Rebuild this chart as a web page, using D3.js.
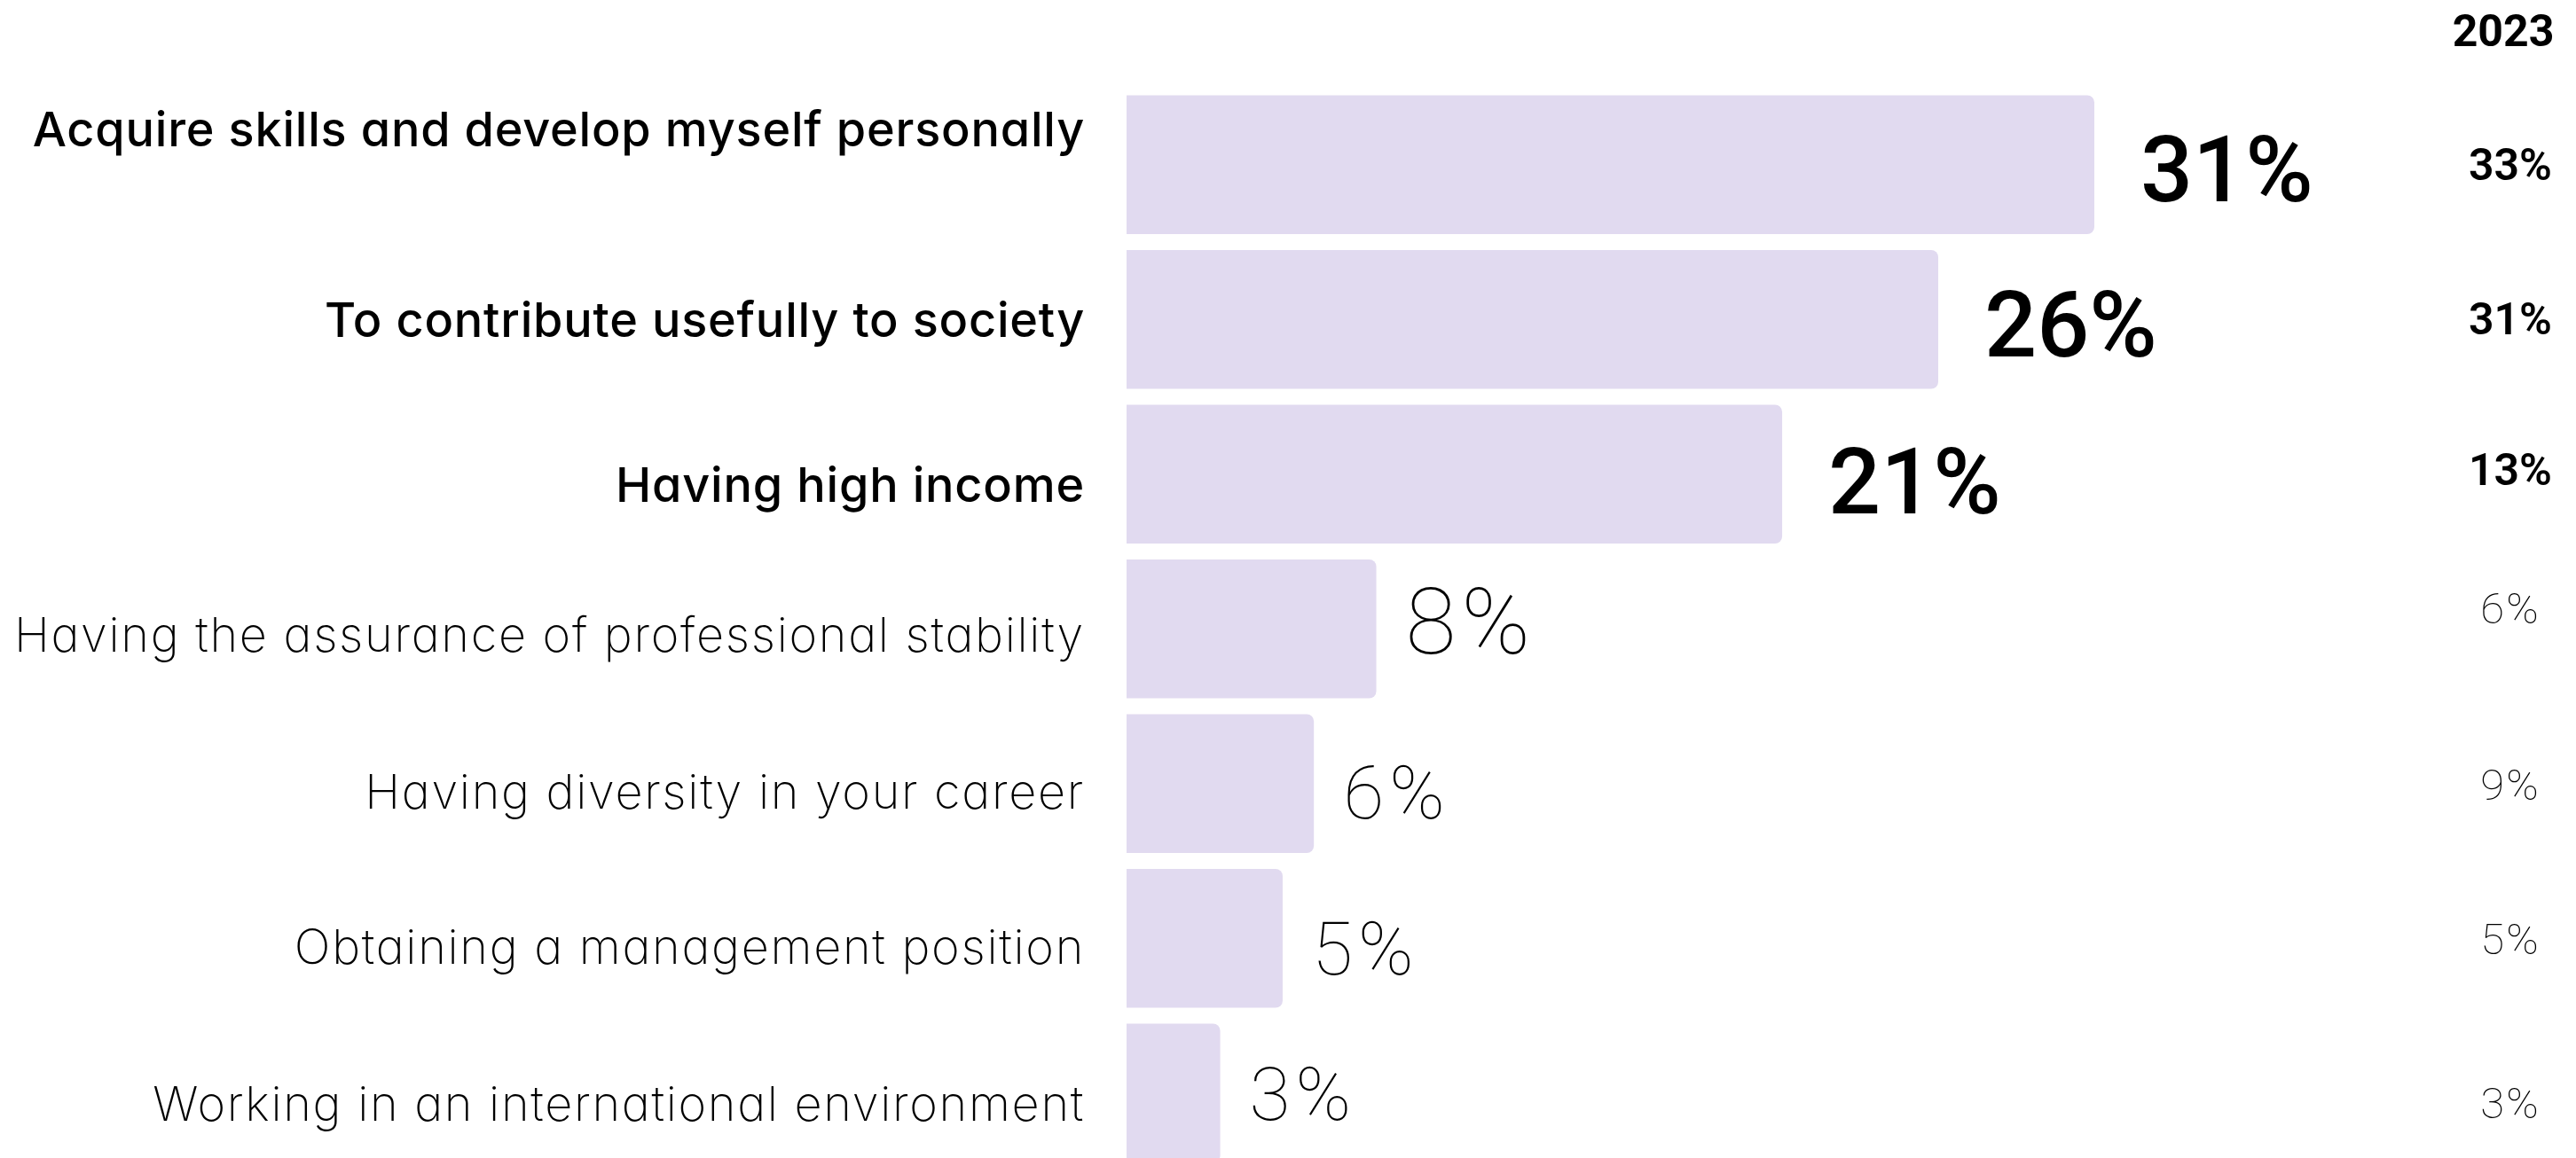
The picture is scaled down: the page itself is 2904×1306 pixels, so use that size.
<!DOCTYPE html>
<html>
<head>
<meta charset="utf-8">
<script src="https://cdn.jsdelivr.net/npm/d3@7"></script>
<style>
  html, body { margin: 0; padding: 0; background: #ffffff; overflow: hidden; }
  svg { display: block; }
</style>
</head>
<body>
<svg id="chart" width="2904" height="1306"></svg>
<script>
// Career priorities, share of respondents
const categories = [
  "Acquire skills and develop myself personally",
  "To contribute usefully to society",
  "Having high income",
  "Having the assurance of professional stability",
  "Having diversity in your career",
  "Obtaining a management position",
  "Working in an international environment"
];
const currentValues = [31, 26, 21, 8, 6, 5, 3];
const previousValues = [33, 31, 13, 6, 9, 5, 3];
const previousYear = "2023";

const barLeft = 1270, barMaxRight = 2361;
const labelRight = 1223;
const prevColX = 2830;
const highlightCount = 3;   // leading rows drawn in heavier type
const largeValueMin = 8;    // values at or above this use the large numeral size

// small vertical nudges applied to the text of each row
const labelShift = [-40, 0, 12, 6, 9, 9, 12];
const valueShift = [6, 6, 9, -8, 11, 12, 2];
const prevShift = [0, 0, -5, -23, 2, 1, 12];

const rows = categories.map((c, i) => ({ cat: c, cur: currentValues[i], prev: previousValues[i], i }));
const strong = d => d.i < highlightCount;

const svg = d3.select("#chart");

const x = d3.scaleLinear().domain([0, d3.max(currentValues)]).range([barLeft, barMaxRight]);
const rowStep = 174.5, rowPad = 0.103, firstRowTop = 107.5;
const y = d3.scaleBand().domain(categories)
  .range([firstRowTop, firstRowTop + rowStep * (categories.length - rowPad)])
  .paddingInner(rowPad).paddingOuter(0);
const cy = d => y(d.cat) + y.bandwidth() / 2;

const radius = 8;
function barPath(x0, y0, w, h) {
  const rr = Math.min(radius, w / 2, h / 2);
  return `M${x0},${y0}H${x0 + w - rr}A${rr},${rr} 0 0 1 ${x0 + w},${y0 + rr}` +
         `V${y0 + h - rr}A${rr},${rr} 0 0 1 ${x0 + w - rr},${y0 + h}H${x0}Z`;
}

svg.append("g").selectAll("path").data(rows).join("path")
  .attr("d", d => barPath(x(0), y(d.cat), x(d.cur) - x(0), y.bandwidth()))
  .attr("fill", "#e1daf0");

// category labels, right-aligned against the bars
svg.append("g").selectAll("text").data(rows).join("text")
  .attr("x", labelRight)
  .attr("y", d => cy(d) + labelShift[d.i])
  .attr("text-anchor", "end")
  .attr("dominant-baseline", "central")
  .style("font-family", "Inter, 'Noto Sans', sans-serif")
  .style("font-feature-settings", "'cv11' 1")
  .style("font-size", "54px")
  .style("letter-spacing", d => strong(d) ? "0.8px" : "1.7px")
  .style("font-weight", d => strong(d) ? 500 : 200)
  .attr("fill", "#000")
  .text(d => d.cat);

// value labels beside each bar
svg.append("g").selectAll("text").data(rows).join("text")
  .attr("x", d => x(d.cur) + (strong(d) ? 52 : 33))
  .attr("y", d => cy(d) + valueShift[d.i])
  .attr("dominant-baseline", "central")
  .style("font-family", "Roboto, 'Liberation Sans', sans-serif")
  .style("font-size", d => d.cur >= largeValueMin ? "104px" : "84px")
  .style("letter-spacing", d => strong(d) ? "0px" : "6px")
  .style("font-weight", d => strong(d) ? 500 : 100)
  .attr("fill", "#000")
  .text(d => d.cur + "%");

// previous-year column
svg.append("text")
  .attr("x", prevColX - 8).attr("y", 52)
  .attr("text-anchor", "middle")
  .style("font-family", "Roboto, 'Liberation Sans', sans-serif")
  .style("font-size", "50px").style("font-weight", 700)
  .attr("fill", "#000")
  .text(previousYear);

svg.append("g").selectAll("text").data(rows).join("text")
  .attr("x", prevColX)
  .attr("y", d => cy(d) + prevShift[d.i])
  .attr("text-anchor", "middle")
  .attr("dominant-baseline", "central")
  .style("font-family", "Roboto, 'Liberation Sans', sans-serif")
  .style("font-size", d => strong(d) ? "50px" : "49px")
  .style("letter-spacing", d => strong(d) ? "0px" : "2px")
  .style("font-weight", d => strong(d) ? 600 : 100)
  .attr("fill", "#000")
  .text(d => d.prev + "%");
</script>
</body>
</html>
